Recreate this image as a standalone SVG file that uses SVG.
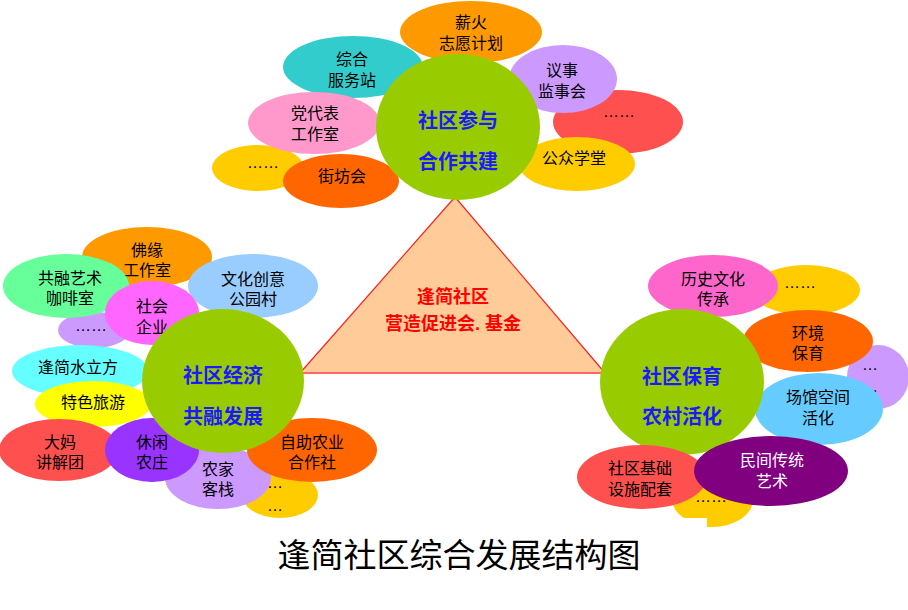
<svg xmlns="http://www.w3.org/2000/svg" width="908" height="610" viewBox="0 0 908 610">
<style>
text{font-family:"Liberation Sans","Noto Sans CJK SC",sans-serif;text-anchor:middle;dominant-baseline:central}
.t{font-size:16px;fill:#000}
.w{font-size:16px;fill:#fff}
.hub{font-size:20px;font-weight:bold;fill:#1a1aff}
.core{font-size:18px;font-weight:bold;fill:#ff0000}
.title{font-size:33px;fill:#000}
</style>
<rect width="908" height="610" fill="#fff"/>
<g id="connectors">
<polygon points="455,197 300,373 605,373" fill="#FFCC99" stroke="#FF2020" stroke-width="1.2"/>
<line x1="300" y1="373" x2="605" y2="373" stroke="#FF6666" stroke-width="2"/>
</g>
<g id="core">
<text class="core" x="453" y="297">逢简社区</text>
<text class="core" x="453" y="324">营造促进会. 基金</text>
</g>

<!-- Top cluster -->
<g id="top-fire"><ellipse cx="471" cy="32" rx="71" ry="31" fill="#FF9900"/><text class="t" x="471" y="22">薪火</text><text class="t" x="471" y="43">志愿计划</text></g>
<g id="top-red"><ellipse cx="618" cy="122" rx="65" ry="32" fill="#FF5050"/><text class="t" x="619" y="111">……</text></g>
<g id="top-yellow-left"><ellipse cx="258" cy="168" rx="46" ry="23" fill="#FFCC00"/><text class="t" x="263" y="162">……</text></g>
<g id="top-service"><ellipse cx="353" cy="67" rx="70" ry="31" fill="#33CCCC"/><text class="t" x="352" y="59">综合</text><text class="t" x="352" y="80">服务站</text></g>
<g id="top-party"><ellipse cx="314" cy="123" rx="66" ry="31" fill="#FF99CC"/><text class="t" x="315" y="113">党代表</text><text class="t" x="315" y="134">工作室</text></g>
<g id="top-street"><ellipse cx="341" cy="181" rx="58" ry="27" fill="#FF6600"/><text class="t" x="342" y="176">街坊会</text></g>
<g id="top-council"><ellipse cx="563" cy="79" rx="54" ry="34" fill="#CC99FF"/><text class="t" x="562" y="70">议事</text><text class="t" x="562" y="91">监事会</text></g>
<g id="top-school"><ellipse cx="577" cy="164" rx="58" ry="27" fill="#FFCC00"/><text class="t" x="574" y="158">公众学堂</text></g>
<g id="hub-top"><ellipse cx="458" cy="127" rx="82" ry="73" fill="#99CC00"/><text class="hub" x="458" y="121">社区参与</text><text class="hub" x="458" y="162">合作共建</text></g>

<!-- Left cluster -->
<g id="left-buddha"><ellipse cx="147" cy="257" rx="65" ry="30" fill="#FF9900"/><text class="t" x="147" y="250">佛缘</text><text class="t" x="147" y="270">工作室</text></g>
<g id="left-purple"><ellipse cx="94" cy="330" rx="36" ry="18" fill="#CC99FF"/><text class="t" x="91" y="325">……</text></g>
<g id="left-cafe"><ellipse cx="66" cy="286" rx="63" ry="32" fill="#66FF99"/><text class="t" x="70" y="278">共融艺术</text><text class="t" x="70" y="298">咖啡室</text></g>
<g id="left-park"><ellipse cx="253" cy="286" rx="65" ry="32" fill="#99CCFF"/><text class="t" x="253" y="279">文化创意</text><text class="t" x="253" y="299">公园村</text></g>
<g id="left-social"><ellipse cx="152" cy="313" rx="47" ry="32" fill="#FF66FF"/><text class="t" x="152" y="306">社会</text><text class="t" x="152" y="327">企业</text></g>
<g id="left-cube"><ellipse cx="80" cy="371" rx="68" ry="26" fill="#66FFFF"/><text class="t" x="78" y="367">逢简水立方</text></g>
<g id="left-tour"><ellipse cx="93" cy="404" rx="58" ry="23" fill="#FFFF00"/><text class="t" x="93" y="402">特色旅游</text></g>
<g id="left-yellow"><ellipse cx="280" cy="495" rx="38" ry="23" fill="#FFCC00"/><text class="t" x="275" y="482">…</text><text class="t" x="275" y="505">…</text></g>
<g id="left-inn"><ellipse cx="218" cy="478" rx="53" ry="31" fill="#CC99FF"/><text class="t" x="218" y="469">农家</text><text class="t" x="218" y="489">客栈</text></g>
<g id="left-guide"><ellipse cx="59" cy="450" rx="60" ry="31" fill="#FF5050"/><text class="t" x="60" y="442">大妈</text><text class="t" x="60" y="462">讲解团</text></g>
<g id="left-farm"><ellipse cx="152" cy="450" rx="47" ry="32" fill="#9933FF"/><text class="t" x="152" y="442">休闲</text><text class="t" x="152" y="462">农庄</text></g>
<g id="left-coop"><ellipse cx="312" cy="450" rx="65" ry="32" fill="#FF6600"/><text class="t" x="312" y="442">自助农业</text><text class="t" x="312" y="462">合作社</text></g>
<g id="hub-left"><ellipse cx="223" cy="381" rx="81" ry="72" fill="#99CC00"/><text class="hub" x="223" y="376">社区经济</text><text class="hub" x="223" y="417">共融发展</text></g>

<!-- Right cluster -->
<g id="right-yellow"><ellipse cx="806" cy="290" rx="54" ry="25" fill="#FFCC00"/><text class="t" x="800" y="282">……</text></g>
<g id="right-history"><ellipse cx="713" cy="286" rx="65" ry="31" fill="#FF66CC"/><text class="t" x="713" y="279">历史文化</text><text class="t" x="713" y="299">传承</text></g>
<g id="right-purple"><ellipse cx="878" cy="377" rx="31" ry="32" fill="#CC99FF"/><text class="t" x="870" y="364">…</text><text class="t" x="870" y="386">…</text></g>
<g id="right-env"><ellipse cx="808" cy="341" rx="65" ry="31" fill="#FF6600"/><text class="t" x="808" y="333">环境</text><text class="t" x="808" y="353">保育</text></g>
<g id="right-venue"><ellipse cx="819" cy="409" rx="64" ry="36" fill="#66CCFF"/><text class="t" x="818" y="397">场馆空间</text><text class="t" x="818" y="418">活化</text></g>
<g id="right-yellow-bottom"><path d="M672,500 A41,27 0 0 1 753,500 A41,27 0 0 1 712,527 L707,527 L707,518 L684,518 A41,27 0 0 1 672,500 Z" fill="#FFCC00"/><text class="t" x="711" y="496">……</text></g>
<g id="hub-right"><ellipse cx="682" cy="382" rx="82" ry="73" fill="#99CC00"/><text class="hub" x="682" y="377">社区保育</text><text class="hub" x="682" y="417">农村活化</text></g>
<g id="right-infra"><ellipse cx="642" cy="477" rx="65" ry="32" fill="#FF5050"/><text class="t" x="640" y="468">社区基础</text><text class="t" x="640" y="489">设施配套</text></g>
<g id="right-art"><ellipse cx="771" cy="471" rx="77" ry="35" fill="#800080"/><text class="w" x="772" y="460">民间传统</text><text class="w" x="772" y="481">艺术</text></g>

<g id="title"><text class="title" x="459" y="555">逢简社区综合发展结构图</text></g>
</svg>
